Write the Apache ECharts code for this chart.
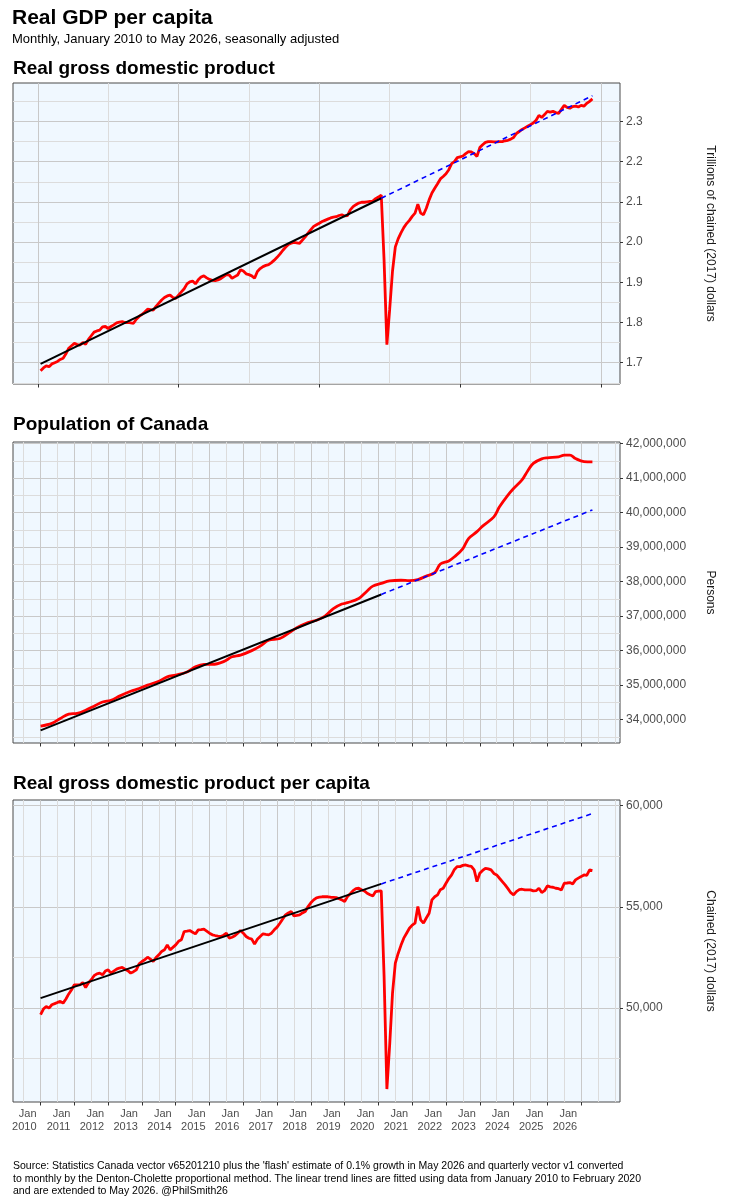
<!DOCTYPE html>
<html>
<head>
<meta charset="utf-8">
<title>Real GDP per capita</title>
<script src="https://cdn.jsdelivr.net/npm/echarts@6/dist/echarts.min.js"></script>
<style>
  html, body { margin: 0; padding: 0; background: #fff; }
  #chart { width: 729px; height: 1200px; }
</style>
</head>
<body>
<div id="chart"></div>
<script>
// months are counted from January 2010 (0) to May 2026 (196)

// real GDP, trillions of chained (2017) dollars
var gdpMonths = [];
for (var i = 0; i <= 196; i++) gdpMonths.push(i);
var gdpValues = [
  1.680, 1.687, 1.692, 1.690, 1.697, 1.700, 1.703, 1.708, 1.711, 1.722,
  1.736, 1.742, 1.748, 1.745, 1.744, 1.750, 1.746, 1.758, 1.767, 1.776,
  1.779, 1.781, 1.789, 1.790, 1.785, 1.790, 1.794, 1.799, 1.801, 1.802,
  1.800, 1.800, 1.799, 1.798, 1.808, 1.815, 1.820, 1.826, 1.833, 1.832,
  1.831, 1.840, 1.848, 1.856, 1.862, 1.866, 1.868, 1.862, 1.860, 1.868,
  1.876, 1.884, 1.896, 1.901, 1.903, 1.896, 1.906, 1.913, 1.916, 1.911,
  1.907, 1.905, 1.904, 1.906, 1.909, 1.914, 1.919, 1.918, 1.910, 1.914,
  1.918, 1.931, 1.928, 1.921, 1.919, 1.916, 1.910, 1.927, 1.934, 1.939,
  1.942, 1.944, 1.949, 1.955, 1.962, 1.970, 1.979, 1.987, 1.994, 1.997,
  1.999, 1.998, 1.997, 2.005, 2.013, 2.022, 2.031, 2.039, 2.043, 2.047,
  2.051, 2.054, 2.057, 2.060, 2.062, 2.063, 2.066, 2.068, 2.065, 2.066,
  2.080, 2.088, 2.093, 2.097, 2.099, 2.099, 2.100, 2.101, 2.102, 2.108,
  2.112, 2.117, 1.955, 1.745, 1.833, 1.928, 1.988, 2.008, 2.023, 2.036,
  2.046, 2.054, 2.064, 2.072, 2.094, 2.072, 2.068, 2.084, 2.105, 2.122,
  2.134, 2.145, 2.157, 2.163, 2.170, 2.180, 2.195, 2.200, 2.210, 2.212,
  2.214, 2.220, 2.225, 2.224, 2.220, 2.213, 2.235, 2.242, 2.248, 2.250,
  2.250, 2.249, 2.249, 2.250, 2.250, 2.252, 2.253, 2.256, 2.260, 2.270,
  2.275, 2.280, 2.284, 2.288, 2.292, 2.296, 2.303, 2.315, 2.310, 2.317,
  2.325, 2.323, 2.325, 2.322, 2.320, 2.330, 2.340, 2.335, 2.333, 2.337,
  2.338, 2.336, 2.340, 2.338, 2.345, 2.350, 2.356
];

// population, persons (read at irregular months, the curve is smooth)
var popMonths = [
  0, 4, 7, 10, 13, 16, 19, 22, 25, 28, 32, 35, 38, 42, 45, 48, 52, 55, 58, 61,
  65, 68, 71, 75, 78, 81, 85, 88, 91, 95, 98, 101, 104, 107, 109, 113, 116, 118, 121, 124,
  128, 131, 134, 137, 140, 142, 145, 147, 150, 152, 155, 157, 161, 163, 166, 168, 171, 173, 175, 178,
  180, 184, 186, 188, 190, 193, 196
];
var popValues = [
  33810000, 33890000, 34030000, 34160000, 34180000, 34270000, 34390000, 34510000, 34560000, 34680000,
  34820000, 34900000, 35000000, 35110000, 35240000, 35290000, 35380000, 35530000, 35600000, 35600000,
  35680000, 35820000, 35870000, 36000000, 36130000, 36300000, 36350000, 36500000, 36660000, 36810000,
  36880000, 37000000, 37220000, 37350000, 37390000, 37510000, 37730000, 37870000, 37950000, 38020000,
  38040000, 38030000, 38060000, 38160000, 38260000, 38510000, 38600000, 38720000, 38960000, 39250000,
  39450000, 39610000, 39880000, 40170000, 40510000, 40700000, 40950000, 41210000, 41430000, 41560000,
  41590000, 41620000, 41670000, 41670000, 41570000, 41480000, 41470000
];

// real GDP per capita, chained (2017) dollars
var pcMonths = gdpMonths;
var pcValues = [
  49671, 49950, 50082, 50000, 50164, 50220, 50280, 50329, 50247, 50450,
  50700, 50905, 51151, 51151, 51151, 51266, 51020, 51250, 51398, 51600,
  51694, 51727, 51645, 51830, 51891, 51727, 51830, 51924, 51980, 52007,
  51924, 51850, 51727, 51800, 51891, 52188, 52300, 52385, 52516, 52420,
  52303, 52500, 52632, 52800, 52878, 53125, 52878, 53000, 53125, 53300,
  53372, 53783, 53800, 53832, 53750, 53668, 53865, 53880, 53898, 53800,
  53701, 53620, 53586, 53560, 53536, 53600, 53701, 53454, 53500, 53569,
  53700, 53832, 53700, 53536, 53450, 53405, 53158, 53400, 53536, 53668,
  53640, 53618, 53700, 53865, 54000, 54194, 54400, 54605, 54700, 54770,
  54556, 54580, 54605, 54700, 54770, 55016, 55200, 55345, 55450, 55480,
  55500, 55510, 55500, 55477, 55470, 55460, 55400, 55345, 55263, 55510,
  55650, 55806, 55900, 55921, 55850, 55789, 55674, 55600, 55543, 55757,
  55780, 55789, 51600, 46000, 48200, 50740, 52220, 52700, 53100, 53454,
  53700, 53947, 54100, 54194, 55016, 54358, 54194, 54450, 54688, 55345,
  55500, 55592, 55850, 55921, 56168, 56400, 56579, 56850, 56990, 56990,
  57050, 57072, 57023, 57000, 56826, 56250, 56661, 56800, 56908, 56880,
  56826, 56650, 56579, 56414, 56250, 56086, 55900, 55700, 55592, 55757,
  55850, 55872, 55839, 55839, 55839, 55789, 55800, 55921, 55707, 55800,
  56036, 55990, 55970, 55921, 55900, 55839, 56168, 56180, 56200, 56135,
  56332, 56420, 56497, 56579, 56560, 56826, 56793
];

// linear trends: fitted Jan 2010 - Feb 2020, extended to May 2026
var trendMonths = [0, 121, 196];
var gdpTrend = [1.697, 2.109, 2.364];
var popTrend = [33689000, 37628000, 40080000];
var pcTrend = [50494, 56135, 59610];

// tick marks
var yearTicks = [0, 12, 24, 36, 48, 60, 72, 84, 96, 108, 120, 132, 144, 156, 168, 180, 192];
var halfYearTicks = [-6, 6, 18, 30, 42, 54, 66, 78, 90, 102, 114, 126, 138, 150, 162, 174, 186, 198, 204];
var indexTicks = [-1, 49, 99, 149, 199];
var indexMinorTicks = [24, 74, 124, 174];
var gdpTicks = [1.7, 1.8, 1.9, 2.0, 2.1, 2.2, 2.3];
var gdpMinorTicks = [1.65, 1.75, 1.85, 1.95, 2.05, 2.15, 2.25, 2.35];
var popTicks = [34e6, 35e6, 36e6, 37e6, 38e6, 39e6, 40e6, 41e6, 42e6];
var popMinorTicks = [33.5e6, 34.5e6, 35.5e6, 36.5e6, 37.5e6, 38.5e6, 39.5e6, 40.5e6, 41.5e6];
var pcTicks = [50000, 55000, 60000];
var pcMinorTicks = [47500, 52500, 57500];

var FONT = '"Liberation Sans", Arial, Helvetica, sans-serif';
var MAJOR = '#c9c9c9';
var MINOR = '#dcdcdc';

function pairs(xs, ys) {
  return xs.map(function (x, i) { return [x, ys[i]]; });
}

function fmtComma(v) {
  return Math.round(v).toString().replace(/\B(?=(\d{3})+(?!\d))/g, ',');
}

var chart = echarts.init(document.getElementById('chart'));

var grids = [
  { left: 13, width: 607, top: 83, height: 301 },
  { left: 13, width: 607, top: 442, height: 301 },
  { left: 13, width: 607, top: 800, height: 302 }
].map(function (g) {
  return Object.assign(g, {
    show: true,
    backgroundColor: '#f0f8ff',
    borderColor: '#4a4a4a',
    borderWidth: 1,
    outerBoundsMode: 'none'
  });
});

function xMajor(gi, ticks, withLabels) {
  return {
    type: 'value', gridIndex: gi, min: -9.8, max: 205.8, position: 'bottom',
    axisLine: { show: false, onZero: false },
    axisTick: { show: true, length: 3.5, customValues: ticks, lineStyle: { color: '#333' } },
    axisLabel: withLabels ? {
      show: true, customValues: ticks, align: 'right', padding: [0, 4, 0, 0],
      margin: 5, fontFamily: FONT, fontSize: 11, lineHeight: 13.5, color: '#4d4d4d',
      formatter: function (v) { return 'Jan\n' + (2010 + Math.round(v / 12)); }
    } : { show: false },
    splitLine: { show: true, lineStyle: { color: MAJOR, width: 1 } }
  };
}

function xMinor(gi, ticks) {
  return {
    type: 'value', gridIndex: gi, min: -9.8, max: 205.8, position: 'bottom',
    axisLine: { show: false, onZero: false },
    axisTick: { show: false, customValues: ticks },
    axisLabel: { show: false },
    splitLine: { show: true, lineStyle: { color: MINOR, width: 1 } }
  };
}

function yMajor(gi, min, max, ticks, fmt, name) {
  return {
    type: 'value', gridIndex: gi, min: min, max: max, position: 'right',
    axisLine: { show: false, onZero: false },
    axisTick: { show: true, length: 3, customValues: ticks, lineStyle: { color: '#333' } },
    axisLabel: { show: true, customValues: ticks, margin: 6, fontFamily: FONT, fontSize: 12, color: '#4d4d4d', formatter: fmt },
    splitLine: { show: true, lineStyle: { color: MAJOR, width: 1 } },
    name: name, nameLocation: 'middle', nameRotate: -90, nameGap: 84,
    nameTextStyle: { fontFamily: FONT, fontSize: 12, color: '#1a1a1a' }
  };
}

function yMinor(gi, min, max, ticks) {
  return {
    type: 'value', gridIndex: gi, min: min, max: max, position: 'right',
    axisLine: { show: false, onZero: false },
    axisTick: { show: false, customValues: ticks },
    axisLabel: { show: false },
    splitLine: { show: true, lineStyle: { color: MINOR, width: 1 } }
  };
}

function panelSeries(axisIdx, months, values, trend) {
  var t = pairs(trendMonths, trend);
  return [
    {
      type: 'line', xAxisIndex: axisIdx, yAxisIndex: axisIdx, data: pairs(months, values),
      showSymbol: false, smooth: months === popMonths ? 0.35 : false,
      lineStyle: { color: '#ff0000', width: 2.8 }, z: 2
    },
    {
      type: 'line', xAxisIndex: axisIdx, yAxisIndex: axisIdx, data: t.slice(0, 2),
      showSymbol: false, lineStyle: { color: '#000000', width: 2 }, z: 3
    },
    {
      type: 'line', xAxisIndex: axisIdx, yAxisIndex: axisIdx, data: t.slice(1, 3),
      showSymbol: false, lineStyle: { color: '#0000ff', width: 1.6, type: [5, 4] }, z: 3
    }
  ];
}

function heading(text, left, top, size, weight) {
  return {
    text: text, left: left, top: top, padding: 0,
    textStyle: { fontFamily: FONT, fontSize: size, fontWeight: weight, color: '#000' }
  };
}

var source = heading(
  "Source: Statistics Canada vector v65201210 plus the 'flash' estimate of 0.1% growth in May 2026 and quarterly vector v1 converted\n" +
  'to monthly by the Denton-Cholette proportional method. The linear trend lines are fitted using data from January 2010 to February 2020\n' +
  'and are extended to May 2026. @PhilSmith26',
  13, 1160, 10.5, 'normal');
source.textStyle.lineHeight = 12.5;

chart.setOption({
  animation: false,
  backgroundColor: '#ffffff',
  title: [
    heading('Real GDP per capita', 12, 8, 21, 'bold'),
    heading('Monthly, January 2010 to May 2026, seasonally adjusted', 12, 33, 13, 'normal'),
    heading('Real gross domestic product', 13, 59, 19, 'bold'),
    heading('Population of Canada', 13, 415, 19, 'bold'),
    heading('Real gross domestic product per capita', 13, 774, 19, 'bold'),
    source
  ],
  grid: grids,
  xAxis: [
    xMajor(0, indexTicks, false), xMinor(0, indexMinorTicks),
    xMajor(1, yearTicks, false), xMinor(1, halfYearTicks),
    xMajor(2, yearTicks, true), xMinor(2, halfYearTicks)
  ],
  yAxis: [
    yMajor(0, 1.647, 2.3956, gdpTicks, function (v) { return v.toFixed(1); }, 'Trillions of chained (2017) dollars'),
    yMinor(0, 1.647, 2.3956, gdpMinorTicks),
    yMajor(1, 33321000, 42049000, popTicks, fmtComma, 'Persons'),
    yMinor(1, 33321000, 42049000, popMinorTicks),
    yMajor(2, 45360, 60281, pcTicks, fmtComma, 'Chained (2017) dollars'),
    yMinor(2, 45360, 60281, pcMinorTicks)
  ],
  series: [].concat(
    panelSeries(0, gdpMonths, gdpValues, gdpTrend),
    panelSeries(2, popMonths, popValues, popTrend),
    panelSeries(4, pcMonths, pcValues, pcTrend)
  )
});
</script>
</body>
</html>
